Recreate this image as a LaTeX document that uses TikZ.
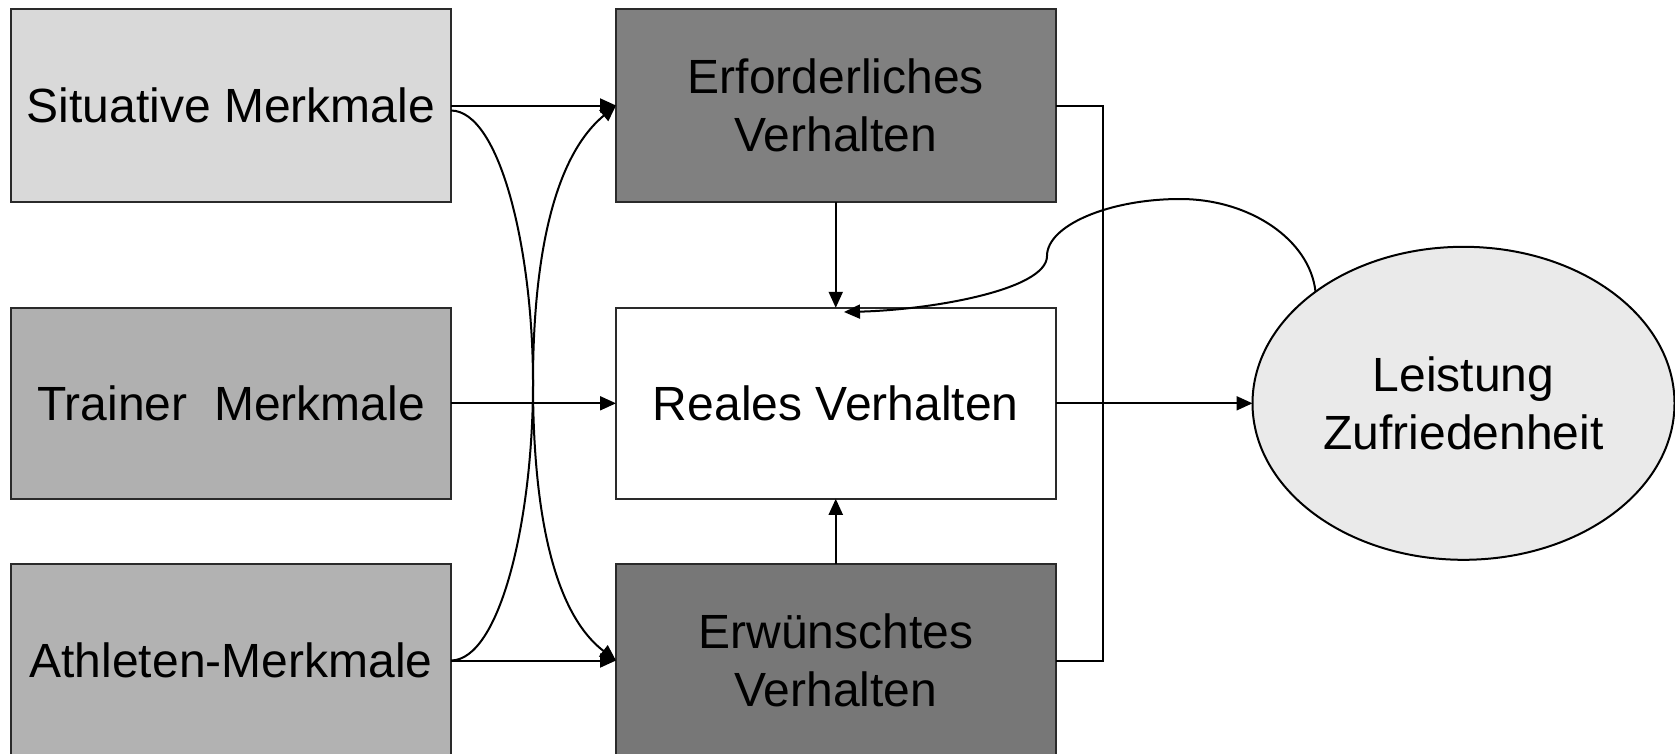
\documentclass[tikz,border=0pt]{standalone}
\usepackage{fontspec}
\setmainfont{Liberation Sans}
\usetikzlibrary{arrows.meta,shapes.geometric}
\definecolor{cSit}{HTML}{D9D9D9}
\definecolor{cTrain}{HTML}{B0B0B0}
\definecolor{cAth}{HTML}{B2B2B2}
\definecolor{cErf}{HTML}{808080}
\definecolor{cErw}{HTML}{777777}
\definecolor{cEll}{HTML}{EAEAEA}
\definecolor{cBorder}{HTML}{2A2A2A}
\tikzset{
  box/.style={draw=cBorder, line width=2pt, rectangle, minimum width=440pt, minimum height=193pt,
    inner sep=0pt, outer sep=0pt, align=center, font=\fontsize{48}{58}\selectfont},
  conn/.style={draw=black, line width=2pt},
  arr/.style={conn, -{Triangle[length=16pt,width=14pt]}},
}
\begin{document}
\begin{tikzpicture}[x=1pt,y=-1pt]
\clip (0,0) rectangle (1675,753);
\fill[white] (0,0) rectangle (1675,753);
% left column
\node[box, fill=cSit]   (S) at (231,105.5) {Situative Merkmale};
\node[box, fill=cTrain, minimum height=191pt] (T) at (231,403.3) {Trainer\ \ Merkmale};
\node[box, fill=cAth]   (A) at (231,660.5) {Athleten-Merkmale};
% middle column
\node[box, fill=cErf, minimum width=439.5pt] (E1) at (835.75,105.5) {Erforderliches\\Verhalten};
\node[box, fill=white, minimum width=439.5pt, minimum height=191pt] (R) at (835.75,403.3) {Reales Verhalten};
\node[box, fill=cErw, minimum width=439.5pt] (E2) at (835.75,660.5) {Erwünschtes\\Verhalten};
% ellipse
\node[ellipse, draw=black, line width=2pt, fill=cEll, minimum width=422pt, minimum height=313pt,
  inner sep=0pt, outer sep=0pt, align=center, font=\fontsize{48}{58}\selectfont] (L) at (1463.5,403.3) {Leistung\\Zufriedenheit};
% straight arrows
\draw[arr] (S.east) -- (E1.west);
\draw[arr] (T.east) -- (R.west);
\draw[arr] (A.east) -- (E2.west);
\draw[arr] (E1.south) -- (R.north);
\draw[arr] (E2.north) -- (R.south);
\draw[arr] (R.east) -- (L.west);
% crossing curves
\draw[arr] ([yshift=-5pt]S.east) .. controls (500,111) and (533,250) .. (533,383)
  .. controls (533,500) and (550,610) .. (E2.west);
\draw[arr] (A.east) .. controls (500,660) and (533,520) .. (533,383)
  .. controls (533,270) and (550,160) .. (E1.west);
% bracket line on the right
\coordinate (brk) at (1103,105.5);
\draw[conn] (E1.east) -- (brk) |- (E2.east);
% feedback curve
\coordinate (fbend) at (844,312);
\draw[arr] (L.143) .. controls (1310,240) and (1250,199) .. (1180,199)
  .. controls (1110,199) and (1047,225) .. (1047,256)
  .. controls (1047,290) and (930,310) .. (fbend);
\end{tikzpicture}
\end{document}
